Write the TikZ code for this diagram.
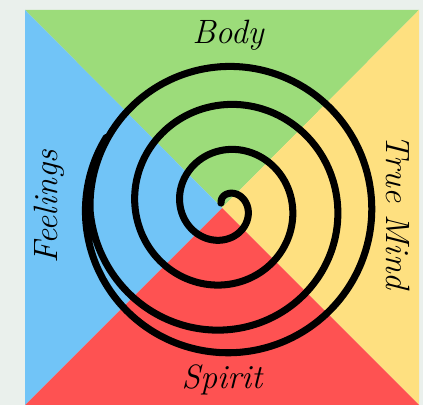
\documentclass[tikz,border=0pt]{standalone}
\usepackage{tikz}

\definecolor{margingray}{RGB}{234,240,236}
\definecolor{bodygreen}{RGB}{156,220,122}
\definecolor{mindyellow}{RGB}{254,224,128}
\definecolor{spiritred}{RGB}{254,82,82}
\definecolor{feelblue}{RGB}{113,196,247}

\begin{document}
\begin{tikzpicture}[x=0.025cm,y=0.025cm,
    spiral/.style={line width=5pt, line cap=round, line join=round},
    quarter label/.style={font=\fontsize{24}{24}\selectfont\itshape, inner sep=0pt}]
  % background and picture size
  \fill[margingray] (0,0) rectangle (423,405);
  \useasboundingbox (0,0) rectangle (423,405);

  % corners of the square and its centre
  \coordinate (TL) at (25,395);
  \coordinate (TR) at (419,395);
  \coordinate (BR) at (419,0);
  \coordinate (BL) at (25,0);
  \coordinate (O) at (222,197);

  % four coloured triangles
  \fill[bodygreen] (TL) -- (TR) -- (O) -- cycle;
  \fill[mindyellow] (TR) -- (BR) -- (O) -- cycle;
  \fill[spiritred] (BR) -- (BL) -- (O) -- cycle;
  \fill[feelblue] (BL) -- (TL) -- (O) -- cycle;

  % spiral, from the centre outwards (clockwise);
  % \t is the turned angle from the top, the last turn stays almost round
  \draw[spiral, shift={(225,199)}]
    plot[domain=-55:1380, samples=400, variable=\t, smooth]
      ({90-\t}:{ifthenelse(\t<990, max(5,11+0.1255*\t), 141.5+6.5*cos((\t-1215)*0.8))});

  % labels
  \node[quarter label] (body) at (228,370) {Body};
  \node[quarter label, rotate=-90] (mind) at (398,193) {True Mind};
  \node[quarter label] (spirit) at (222,25) {Spirit};
  \node[quarter label, rotate=90] (feelings) at (49,198) {Feelings};
\end{tikzpicture}
\end{document}
